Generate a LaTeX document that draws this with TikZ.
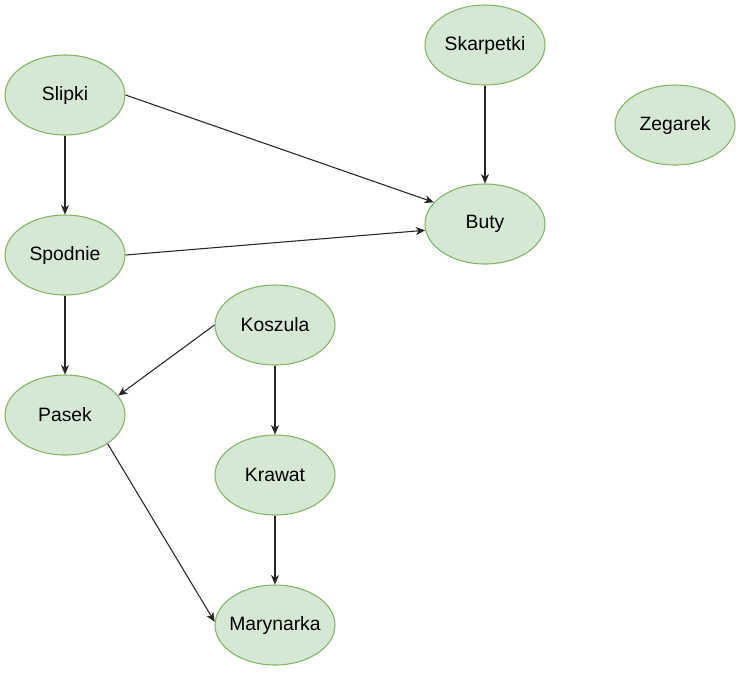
\documentclass[tikz,border=0pt]{standalone}
\usepackage{fontspec}
\setmainfont{Liberation Sans}
\usetikzlibrary{arrows.meta,shapes.geometric}
\definecolor{nfill}{HTML}{D5E8D4}
\definecolor{nline}{HTML}{82B366}
\tikzset{
  item/.style={ellipse, draw=nline, fill=nfill, line width=0.8pt, minimum width=90pt, minimum height=60pt, inner xsep=-15pt, inner ysep=0pt, font=\fontsize{14.5pt}{17pt}\selectfont},
  link/.style={draw=black!85, line width=0.8pt, -{Stealth[length=7pt,width=6pt,inset=2pt]}}
}
\begin{document}
\begin{tikzpicture}[x=0.75pt,y=-0.75pt]
\useasboundingbox (0,0) rectangle (741,672);
\node[item] (slipki) at (65,95) {Slipki};
\node[item] (skarp) at (485,45) {Skarpetki};
\node[item] (zegarek) at (675,125) {Zegarek};
\node[item] (buty) at (485,224) {Buty};
\node[item] (spodnie) at (65,255) {Spodnie};
\node[item] (koszula) at (275,325) {Koszula};
\node[item] (pasek) at (65,415) {Pasek};
\node[item] (krawat) at (275,475) {Krawat};
\node[item] (mary) at (275,625) {Marynarka};
\draw[link] (slipki.east) -- (buty.157);
\draw[link] (spodnie.east) -- (buty.186);
\draw[link] (skarp.south) -- (buty.north);
\draw[link] (slipki.south) -- (spodnie.north);
\draw[link] (spodnie.south) -- (pasek.north);
\draw[link] (koszula.west) -- (pasek.20);
\draw[link] (pasek.-34) -- (mary.177);
\draw[link] (koszula.south) -- (krawat.north);
\draw[link] (krawat.south) -- (mary.north);
\end{tikzpicture}
\end{document}
